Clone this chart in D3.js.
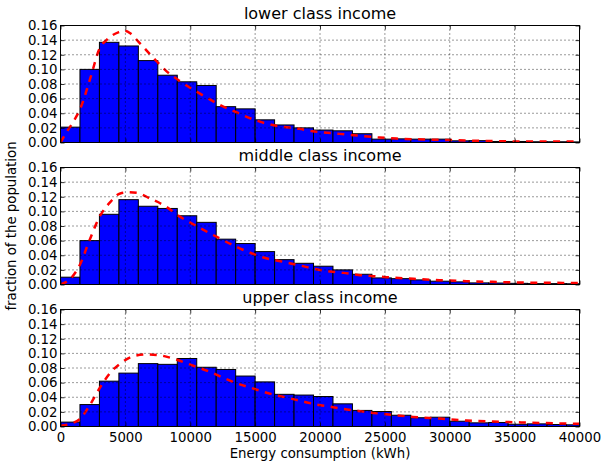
<!DOCTYPE html>
<html>
<head>
<meta charset="utf-8">
<script src="https://cdn.jsdelivr.net/npm/d3@7"></script>
<style>
  body { margin: 0; background: #fff; }
  svg { display: block; font-family: "DejaVu Sans", sans-serif; }
</style>
</head>
<body>
<svg id="chart" width="601" height="464"></svg>
<script>
// bin left edges (kWh), each bin is 1500 wide
const binStarts = [0, 1500, 3000, 4500, 6000, 7500, 9000, 10500, 12000, 13500, 15000, 16500, 18000,
  19500, 21000, 22500, 24000, 25500, 27000, 28500, 30000, 31500, 33000, 34500, 36000, 37500, 39000];
const binWidth = 1500;

const titles = ['lower class income', 'middle class income', 'upper class income'];

const lowerBars = [0.021, 0.100, 0.137, 0.132, 0.112, 0.092, 0.083, 0.078, 0.049, 0.046, 0.031, 0.024, 0.020,
  0.017, 0.016, 0.012, 0.0046, 0.005, 0.0046, 0.0046, 0.0023, 0.0025, 0.0014, 0.0014, 0.001, 0.001, 0.0008];
const middleBars = [0.010, 0.060, 0.096, 0.116, 0.107, 0.104, 0.094, 0.085, 0.062, 0.056, 0.045, 0.034, 0.029,
  0.025, 0.020, 0.014, 0.009, 0.008, 0.0063, 0.0045, 0.0036, 0.0022, 0.002, 0.0016, 0.0012, 0.0012, 0.001];
const upperBars = [0.006, 0.030, 0.062, 0.073, 0.086, 0.085, 0.093, 0.081, 0.078, 0.069, 0.061, 0.044, 0.043,
  0.041, 0.031, 0.022, 0.0205, 0.0154, 0.012, 0.0127, 0.0072, 0.005, 0.0055, 0.0031, 0.0036, 0.0027, 0.0023];

// fitted curves, [kWh, fraction]
const lowerFit = [[0, 0], [500, 0.015], [900, 0.026], [1540, 0.047], [2300, 0.088], [3000, 0.128], [3600, 0.141],
  [4500, 0.151], [4900, 0.153], [5400, 0.149], [6000, 0.138], [7200, 0.115], [8200, 0.097], [9200, 0.084],
  [10500, 0.0695], [12000, 0.054], [13600, 0.041], [15100, 0.030], [16700, 0.0227], [18400, 0.0187],
  [19400, 0.0155], [21500, 0.0118], [23100, 0.0091], [24600, 0.0068], [25900, 0.0054], [28000, 0.0041],
  [30200, 0.0033], [32300, 0.0023], [35400, 0.0014], [40000, 0.0012]];
const middleFit = [[0, 0], [900, 0.0104], [1540, 0.0287], [2180, 0.058], [3080, 0.0948], [3850, 0.113],
  [4600, 0.1245], [5250, 0.126], [5900, 0.1253], [6900, 0.1176], [7950, 0.1085], [9230, 0.0925],
  [10500, 0.0797], [12050, 0.065], [13850, 0.0492], [15640, 0.037], [17440, 0.030], [18600, 0.0255],
  [19600, 0.0213], [20800, 0.0178], [21800, 0.0159], [22950, 0.0131], [24100, 0.0114], [25130, 0.010],
  [27200, 0.0077], [29200, 0.0059], [31300, 0.0045], [33300, 0.0036], [35600, 0.0027], [38700, 0.0022],
  [40000, 0.002]];
const upperFit = [[0, 0.001], [800, 0.004], [1540, 0.011], [2180, 0.027], [3000, 0.052], [3850, 0.0737],
  [4600, 0.086], [5640, 0.0963], [6670, 0.0986], [7690, 0.0973], [8720, 0.0927], [10000, 0.0846],
  [11540, 0.0745], [13330, 0.0608], [14870, 0.0518], [16410, 0.0436], [17440, 0.0395], [18720, 0.0341],
  [19740, 0.030], [20770, 0.0273], [21790, 0.024], [22950, 0.0213], [24100, 0.0186], [25130, 0.0168],
  [27180, 0.0131], [29230, 0.0109], [31280, 0.0082], [33330, 0.0068], [35640, 0.0055], [38720, 0.0041],
  [40000, 0.0036]];

const xTicks = [0, 5000, 10000, 15000, 20000, 25000, 30000, 35000, 40000];
const yTicks = [0, 0.02, 0.04, 0.06, 0.08, 0.10, 0.12, 0.14, 0.16];

const allBars = [lowerBars, middleBars, upperBars];
const allFits = [lowerFit, middleFit, upperFit];

let svg = d3.select('#chart');
let left = 60.5, right = 579.5;
let panelTops = [25.5, 167.5, 309.5];
let panelH = 117;

let x = d3.scaleLinear().domain([0, 40000]).range([left, right]);

function drawPanel(i) {
  let top = panelTops[i];
  let y = d3.scaleLinear().domain([0, 0.16]).range([top + panelH, top]);
  let g = svg.append('g');

  g.append('clipPath').attr('id', 'clip' + i)
    .append('rect')
    .attr('x', left).attr('y', top)
    .attr('width', right - left).attr('height', panelH);

  let plot = g.append('g').attr('clip-path', 'url(#clip' + i + ')');

  plot.selectAll('.bar')
    .data(allBars[i])
    .enter().append('rect')
    .attr('class', 'bar')
    .attr('x', (d, k) => x(binStarts[k]))
    .attr('width', (d, k) => x(binStarts[k] + binWidth) - x(binStarts[k]))
    .attr('y', d => y(d))
    .attr('height', d => y(0) - y(d))
    .attr('fill', '#0000ff')
    .attr('stroke', '#000')
    .attr('stroke-width', 1);

  let line = d3.line()
    .x(d => x(d[0]))
    .y(d => y(d[1]))
    .curve(d3.curveMonotoneX);

  plot.append('path')
    .datum(allFits[i])
    .attr('d', line)
    .attr('fill', 'none')
    .attr('stroke', '#ff0000')
    .attr('stroke-width', 2.5)
    .attr('stroke-dasharray', '7,6.5');

  // grid (drawn above the bars, like the classic style)
  g.selectAll('.vgrid')
    .data(xTicks.slice(1, -1))
    .enter().append('line')
    .attr('x1', d => x(d)).attr('x2', d => x(d))
    .attr('y1', top).attr('y2', top + panelH)
    .attr('stroke', '#000').attr('stroke-width', 0.8)
    .attr('stroke-dasharray', '1,3');
  g.selectAll('.hgrid')
    .data(yTicks.slice(1, -1))
    .enter().append('line')
    .attr('x1', left).attr('x2', right)
    .attr('y1', d => y(d)).attr('y2', d => y(d))
    .attr('stroke', '#000').attr('stroke-width', 0.8)
    .attr('stroke-dasharray', '1,3');

  // axes with inward ticks on all four sides
  let yLeft = g.append('g').attr('transform', 'translate(' + left + ',0)')
    .call(d3.axisLeft(y).tickValues(yTicks).tickFormat(d3.format('.2f')).tickSize(-4).tickPadding(3));
  let yRight = g.append('g').attr('transform', 'translate(' + right + ',0)')
    .call(d3.axisRight(y).tickValues(yTicks).tickFormat('').tickSize(-4));
  let xTop = g.append('g').attr('transform', 'translate(0,' + top + ')')
    .call(d3.axisTop(x).tickValues(xTicks).tickFormat('').tickSize(-4));
  let xBottom = g.append('g').attr('transform', 'translate(0,' + (top + panelH) + ')')
    .call(d3.axisBottom(x).tickValues(xTicks)
      .tickFormat(i === 2 ? d3.format('d') : '').tickSize(-4).tickPadding(6));

  [yLeft, yRight, xTop, xBottom].forEach(a => {
    a.select('.domain').remove();
    a.selectAll('.tick line').attr('stroke', '#000').attr('stroke-width', 0.8);
    a.selectAll('text')
      .attr('fill', '#000')
      .style('font-size', '13.3px')
      .style('font-family', '"DejaVu Sans", sans-serif');
  });
  xBottom.selectAll('text').attr('dy', '0.71em');

  g.append('rect')
    .attr('x', left).attr('y', top)
    .attr('width', right - left).attr('height', panelH)
    .attr('fill', 'none')
    .attr('stroke', '#000')
    .attr('stroke-width', 1);

  g.append('text')
    .attr('x', (left + right) / 2)
    .attr('y', top - 6.5)
    .attr('text-anchor', 'middle')
    .style('font-size', '16px')
    .text(titles[i]);
}

[0, 1, 2].forEach(drawPanel);

svg.append('text')
  .attr('transform', 'translate(16,' + (panelTops[0] + panelTops[2] + panelH) / 2 + ') rotate(-90)')
  .attr('text-anchor', 'middle')
  .style('font-size', '13.3px')
  .text('fraction of the population');

svg.append('text')
  .attr('x', (left + right) / 2)
  .attr('y', 458)
  .attr('text-anchor', 'middle')
  .style('font-size', '13.3px')
  .text('Energy consumption (kWh)');
</script>
</body>
</html>
